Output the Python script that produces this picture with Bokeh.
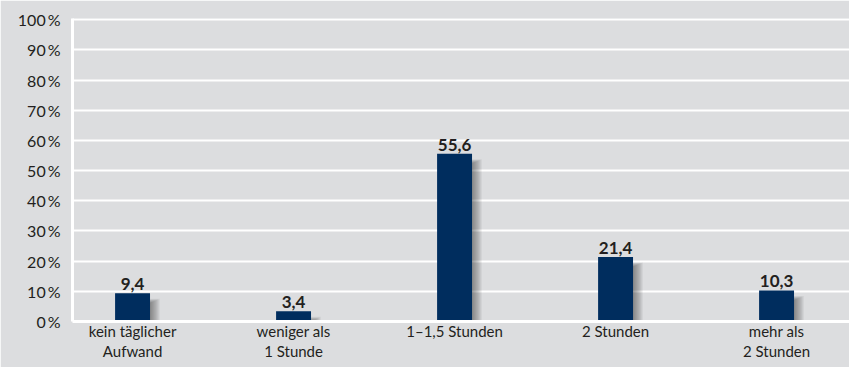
from bokeh.plotting import figure
from bokeh.models import FixedTicker, Range1d, ColumnDataSource
from bokeh.embed import file_html
from bokeh.resources import INLINE
from bokeh.core.properties import value

categories = ["kein täglicher\nAufwand", "weniger als\n1 Stunde", "1–1,5 Stunden", "2 Stunden", "mehr als\n2 Stunden"]
values = [9.4, 3.4, 55.6, 21.4, 10.3]
value_labels = ["9,4", "3,4", "55,6", "21,4", "10,3"]
y_ticks = [0, 10, 20, 30, 40, 50, 60, 70, 80, 90, 100]

BG = "#dcdddf"
NAVY = "#002d5e"
TXT = "#231f20"
FONT = "Lato"

xs = list(range(len(categories)))
bw = 0.217

p = figure(width=849, height=367, output_backend="svg", toolbar_location=None,
           x_range=Range1d(-0.373, 4.453), y_range=Range1d(0, 100.4),
           min_border_left=72, min_border_right=0, min_border_top=18, min_border_bottom=46)
p.background_fill_color = BG
p.border_fill_color = BG
p.outline_line_color = None

# soft drop shadow
px = 1 / 161.0
py = 100.4 / 303.0
for k in range(1, 12):
    src = ColumnDataSource(dict(
        left=[x - bw / 2 + k * px for x in xs],
        right=[x + bw / 2 + k * px * 0.9 for x in xs],
        top=[v - (10 - k * 0.4) * py for v in values],
        bottom=[0 for _ in xs]))
    p.quad(left="left", right="right", top="top", bottom="bottom", source=src,
           fill_color="#202020", fill_alpha=0.05, line_color=None)

src = ColumnDataSource(dict(x=xs, top=values, lab=value_labels))
p.vbar(x="x", top="top", width=bw, source=src, fill_color=NAVY, line_color=None)
p.text(x="x", y="top", text="lab", source=src, text_align="center", text_baseline="bottom",
       y_offset=-3, text_font=value(FONT), text_font_style="bold", text_font_size="17px",
       text_color=TXT)

p.xgrid.grid_line_color = None
p.ygrid.grid_line_color = "white"
p.ygrid.grid_line_width = 2
p.ygrid.ticker = FixedTicker(ticks=y_ticks)

p.yaxis.ticker = FixedTicker(ticks=y_ticks)
p.yaxis.major_label_overrides = {t: f"{t}\u2009%" for t in y_ticks}
p.xaxis.ticker = FixedTicker(ticks=xs)
p.xaxis.major_label_overrides = {i: c for i, c in enumerate(categories)}

for ax in (p.xaxis[0], p.yaxis[0]):
    ax.axis_line_color = "white"
    ax.axis_line_width = 3
    ax.major_tick_line_color = None
    ax.minor_tick_line_color = None
    ax.major_tick_out = 0
    ax.major_tick_in = 0
    ax.major_label_text_font = FONT
    ax.major_label_text_color = TXT
p.yaxis.major_label_text_font_size = "16px"
p.yaxis.major_label_standoff = 12
p.xaxis.major_label_text_font_size = "15px"
p.xaxis.major_label_standoff = 0
p.xaxis.major_label_text_line_height = 1.15

open("out.html", "w").write(file_html(p, INLINE))
